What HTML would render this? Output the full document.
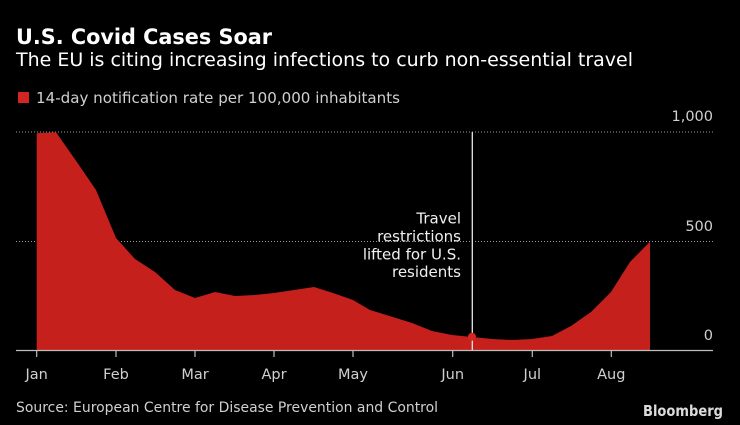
<!DOCTYPE html>
<html><head><meta charset="utf-8"><style>
html,body{margin:0;padding:0;background:#000;}
svg{display:block;}
text{font-family:"DejaVu Sans","Liberation Sans",sans-serif;}
</style></head><body>
<svg width="740" height="425" viewBox="0 0 740 425" xmlns="http://www.w3.org/2000/svg">
<rect width="740" height="425" fill="#000"/>
<text x="16" y="44" font-size="21" font-weight="bold" fill="#fff" textLength="256" lengthAdjust="spacingAndGlyphs">U.S. Covid Cases Soar</text>
<text x="16" y="66" font-size="19" fill="#fff" textLength="617" lengthAdjust="spacingAndGlyphs">The EU is citing increasing infections to curb non-essential travel</text>
<rect x="18" y="92" width="11" height="11" fill="#d42522"/>
<text x="36" y="103" font-size="15" fill="#d0d0d0" textLength="364" lengthAdjust="spacingAndGlyphs">14-day notification rate per 100,000 inhabitants</text>
<line x1="16" y1="132" x2="713" y2="132" stroke="#9a9a9a" stroke-width="1" stroke-dasharray="1,2"/>
<line x1="16" y1="241.5" x2="713" y2="241.5" stroke="#9a9a9a" stroke-width="1" stroke-dasharray="1,2"/>
<path fill="#c6201d" d="M36.7,350 L36.7,133.3 L56,132.3 L76.7,161.7 L96,190 L116,238 L135,259 L155,272 L175,290 L195,298 L215,292 L235,296 L255,295 L274,293 L294,290 L314,287 L333,293 L353,300 L370,310 L392,316.7 L412,323 L432,331 L452,335 L472,337 L492,339 L512,340 L532,339 L552,336 L571,326 L591,312 L611,292 L630,262 L650,241.7 L650,350 Z"/>
<line x1="472.3" y1="132" x2="472.3" y2="350" stroke="#e8e8e8" stroke-width="1.3"/>
<circle cx="472" cy="336.7" r="4" fill="#d42522"/>
<line x1="16" y1="350.5" x2="713" y2="350.5" stroke="#bdbdbd" stroke-width="1.3"/>
<g stroke="#bdbdbd" stroke-width="1.2">
<line x1="36.7" y1="350" x2="36.7" y2="357"/>
<line x1="116" y1="350" x2="116" y2="357"/>
<line x1="195" y1="350" x2="195" y2="357"/>
<line x1="274" y1="350" x2="274" y2="357"/>
<line x1="353" y1="350" x2="353" y2="357"/>
<line x1="452.7" y1="350" x2="452.7" y2="357"/>
<line x1="532.3" y1="350" x2="532.3" y2="357"/>
<line x1="611.3" y1="350" x2="611.3" y2="357"/>
</g>
<g font-size="14.5" fill="#d0d0d0" text-anchor="middle">
<text x="36.7" y="379">Jan</text>
<text x="116" y="379">Feb</text>
<text x="195" y="379">Mar</text>
<text x="274" y="379">Apr</text>
<text x="353" y="379">May</text>
<text x="452.7" y="379">Jun</text>
<text x="532.3" y="379">Jul</text>
<text x="611.3" y="379">Aug</text>
</g>
<g font-size="14.5" fill="#d0d0d0" text-anchor="end">
<text x="713" y="121">1,000</text>
<text x="713" y="231">500</text>
<text x="713" y="340">0</text>
</g>
<g font-size="15" fill="#f0f0f0" text-anchor="end">
<text x="461" y="223.5">Travel</text>
<text x="461" y="241.5">restrictions</text>
<text x="461" y="259.5">lifted for U.S.</text>
<text x="461" y="277">residents</text>
</g>
<text x="16" y="412" font-size="14.5" fill="#d0d0d0" textLength="422" lengthAdjust="spacingAndGlyphs">Source: European Centre for Disease Prevention and Control</text>
<text x="643" y="416" font-size="15" font-weight="bold" fill="#dcdcdc" font-family="Liberation Sans, sans-serif" textLength="80" lengthAdjust="spacingAndGlyphs">Bloomberg</text>
</svg>
</body></html>
